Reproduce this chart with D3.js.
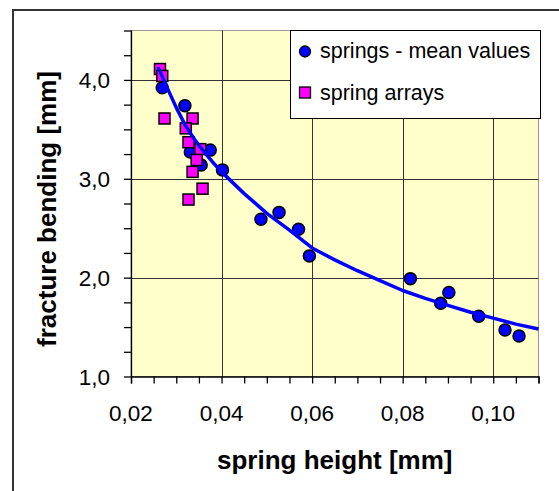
<!DOCTYPE html>
<html>
<head>
<meta charset="utf-8">
<script src="https://cdn.jsdelivr.net/npm/d3@7"></script>
<style>
    html, body { margin: 0; padding: 0; background: #fff; }
    text { font-family: "Liberation Sans", Arial, sans-serif; }
</style>
</head>
<body>
<div id="chart"></div>
<script>
// springs - mean values: [spring height, fracture bending]
let meanX = [0.0269, 0.0319, 0.0331, 0.0375, 0.0355, 0.0402, 0.0487, 0.0527, 0.0570, 0.0594,
    0.0817, 0.0884, 0.0902, 0.0968, 0.1026, 0.1057];
let meanY = [3.92, 3.74, 3.27, 3.29, 3.14, 3.09, 2.59, 2.66, 2.49, 2.22,
    1.99, 1.74, 1.85, 1.61, 1.47, 1.41];

// spring arrays
let arrX = [0.0264, 0.0269, 0.0274, 0.0336, 0.0321, 0.0327, 0.0353, 0.0345, 0.0336, 0.0358, 0.0327];
let arrY = [4.11, 4.04, 3.61, 3.61, 3.51, 3.37, 3.30, 3.19, 3.07, 2.90, 2.79];

// trend curve
let fitX = [0.026, 0.028, 0.030, 0.032, 0.034, 0.036, 0.038, 0.040, 0.045, 0.050, 0.055,
    0.060, 0.065, 0.070, 0.075, 0.080, 0.085, 0.090, 0.095, 0.100, 0.105, 0.110];
let fitY = [4.13, 3.92, 3.72, 3.54, 3.40, 3.28, 3.17, 3.07, 2.85, 2.65, 2.48,
    2.30, 2.18, 2.07, 1.97, 1.87, 1.79, 1.72, 1.65, 1.59, 1.53, 1.48];

let xTicks = [0.02, 0.04, 0.06, 0.08, 0.10];
let yTicks = [1, 2, 3, 4];
let legendLabels = ['springs - mean values', 'spring arrays'];

let W = 559, H = 491;
let plot = {left: 131, right: 538.5, top: 30.5, bottom: 376.5};

let svg = d3.select('#chart').append('svg')
    .attr('width', W)
    .attr('height', H);

//外框
svg.append('path')
    .attr('d', 'M13,' + (H + 5) + 'V10H' + (W + 5))
    .attr('fill', 'none')
    .attr('stroke', '#333')
    .attr('stroke-width', 2);

let x = d3.scaleLinear().domain([0.02, 0.11]).range([plot.left, plot.right]);
let y = d3.scaleLinear().domain([1, 4.5]).range([plot.bottom, plot.top]);
let comma = function (f) {
    return function (d) { return d3.format(f)(d).replace('.', ','); };
};

//绘图区背景
svg.append('rect')
    .attr('x', plot.left)
    .attr('y', plot.top)
    .attr('width', plot.right - plot.left)
    .attr('height', plot.bottom - plot.top)
    .attr('fill', '#ffffcc')
    .attr('stroke', '#999')
    .attr('stroke-width', 1);

//网格线
let grid = svg.append('g');
grid.selectAll('line.gx')
    .data(xTicks.filter(function (d) { return d > 0.02; }))
    .enter().append('line')
    .attr('x1', function (d) { return Math.round(x(d)) + 0.5; })
    .attr('x2', function (d) { return Math.round(x(d)) + 0.5; })
    .attr('y1', plot.top)
    .attr('y2', plot.bottom)
    .attr('stroke', '#333');
grid.selectAll('line.gy')
    .data(yTicks.filter(function (d) { return d > 1; }))
    .enter().append('line')
    .attr('y1', function (d) { return Math.round(y(d)) + 0.5; })
    .attr('y2', function (d) { return Math.round(y(d)) + 0.5; })
    .attr('x1', plot.left)
    .attr('x2', plot.right)
    .attr('stroke', '#333');

//坐标轴
let xAxis = svg.append('g')
    .attr('transform', 'translate(0,' + plot.bottom + ')')
    .call(d3.axisBottom(x).tickValues(d3.range(0.02, 0.1101, 0.005)).tickSize(7).tickFormat(''));
let yAxis = svg.append('g')
    .attr('transform', 'translate(' + plot.left + ',0)')
    .call(d3.axisLeft(y).tickValues(d3.range(1, 4.51, 0.25)).tickSize(7).tickFormat(''));
[xAxis, yAxis].forEach(function (a) {
    a.select('.domain').attr('stroke', '#000').attr('stroke-width', 1.3);
    a.selectAll('.tick line').attr('stroke', '#000').attr('stroke-width', 1.3);
});
yAxis.select('.domain').attr('d', 'M0.5,' + plot.top + 'V' + plot.bottom);

//刻度文字
svg.append('g').selectAll('text')
    .data(xTicks)
    .enter().append('text')
    .attr('x', function (d) { return x(d); })
    .attr('y', 421)
    .attr('text-anchor', 'middle')
    .attr('font-size', 22.5)
    .text(comma('.2f'));
svg.append('g').selectAll('text')
    .data(yTicks)
    .enter().append('text')
    .attr('x', 110)
    .attr('y', function (d) { return y(d) + 8; })
    .attr('text-anchor', 'end')
    .attr('font-size', 22.5)
    .text(comma('.1f'));

//轴标题
svg.append('text')
    .attr('x', (plot.left + plot.right) / 2)
    .attr('y', 469)
    .attr('text-anchor', 'middle')
    .attr('font-size', 26)
    .attr('font-weight', 'bold')
    .text('spring height [mm]');
svg.append('text')
    .attr('transform', 'translate(56,209) rotate(-90)')
    .attr('text-anchor', 'middle')
    .attr('font-size', 26)
    .attr('font-weight', 'bold')
    .text('fracture bending [mm]');

//散点
let meanData = meanX.map(function (d, i) { return [d, meanY[i]]; });
let arrData = arrX.map(function (d, i) { return [d, arrY[i]]; });
svg.append('g').selectAll('circle')
    .data(meanData)
    .enter().append('circle')
    .attr('cx', function (d) { return x(d[0]); })
    .attr('cy', function (d) { return y(d[1]); })
    .attr('r', 6)
    .attr('fill', '#0000ff')
    .attr('stroke', '#000')
    .attr('stroke-width', 1.5);
svg.append('g').selectAll('rect')
    .data(arrData)
    .enter().append('rect')
    .attr('x', function (d) { return x(d[0]) - 5.5; })
    .attr('y', function (d) { return y(d[1]) - 5.5; })
    .attr('width', 11)
    .attr('height', 11)
    .attr('fill', '#ff00ff')
    .attr('stroke', '#000')
    .attr('stroke-width', 1.5);

//趋势线
let line = d3.line()
    .x(function (d) { return x(d[0]); })
    .y(function (d) { return y(d[1]); });
svg.append('path')
    .attr('d', line(fitX.map(function (d, i) { return [d, fitY[i]]; })))
    .attr('fill', 'none')
    .attr('stroke', '#0000ff')
    .attr('stroke-width', 3.5)
    .attr('stroke-linejoin', 'round');

//图例
let lg = svg.append('g');
lg.append('rect')
    .attr('x', 290.5)
    .attr('y', 30.5)
    .attr('width', 250)
    .attr('height', 88)
    .attr('fill', '#fff')
    .attr('stroke', '#000')
    .attr('stroke-width', 1);
lg.append('circle')
    .attr('cx', 305).attr('cy', 51.5).attr('r', 5.5)
    .attr('fill', '#0000ff').attr('stroke', '#000').attr('stroke-width', 1.3);
lg.append('rect')
    .attr('x', 299.5).attr('y', 87).attr('width', 11).attr('height', 11)
    .attr('fill', '#ff00ff').attr('stroke', '#000').attr('stroke-width', 1.3);
lg.selectAll('text')
    .data(legendLabels)
    .enter().append('text')
    .attr('x', 320)
    .attr('y', function (d, i) { return 58 + i * 42; })
    .attr('font-size', 21.5)
    .text(function (d) { return d; });
</script>
</body>
</html>
